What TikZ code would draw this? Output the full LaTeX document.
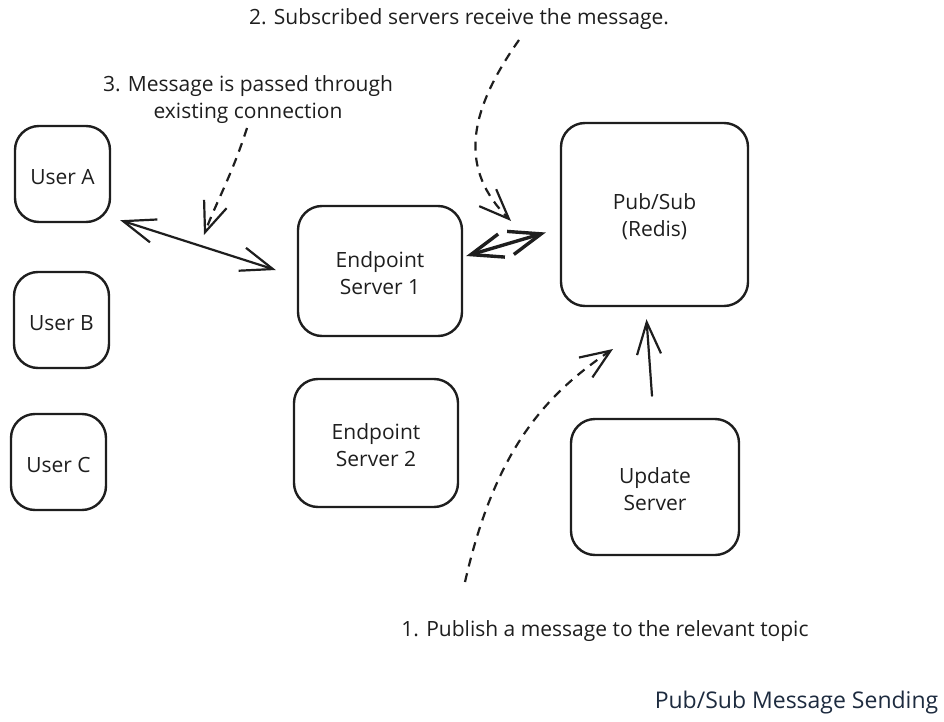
\documentclass[tikz,border=0pt]{standalone}
\usepackage{fontspec}
\setmainfont{Open Sans}
\usetikzlibrary{arrows.meta}
\definecolor{ink}{HTML}{1E1E1E}
\definecolor{titleink}{HTML}{1D2B3F}
\begin{document}
\begin{tikzpicture}[x=1pt,y=-1pt,
    barb/.tip={Straight Barb[length=32pt,width=24pt]},
    box/.style={draw=ink,line width=2.4pt,rounded corners=24pt,align=center,text=ink,font=\fontsize{21}{27}\selectfont},
    user/.style={box,minimum width=95pt,minimum height=96pt,text height=21pt},
    server/.style={box,text height=48pt},
    link/.style={draw=ink,line width=2.2pt,line cap=round,barb-barb},
    push/.style={draw=ink,line width=2.2pt,line cap=round,-barb},
    hint/.style={draw=ink,line width=2.2pt,dash pattern=on 9pt off 7pt,-{Straight Barb[length=30pt,width=24pt]}},
    note/.style={text=ink,align=center,font=\fontsize{21}{27}\selectfont}]
  \useasboundingbox (0,0) rectangle (944,722);
    \node (ua) at (62.5,174) [user] {User A};
    \node (ub) at (61.5,320) [user] {User B};
    \node (uc) at (58.5,462) [user] {User C};
    \node (ep1) at (380,271) [server,minimum width=164pt,minimum height=130pt] {Endpoint\\Server 1};
    \node (ep2) at (376,443) [server,minimum width=164pt,minimum height=128pt] {Endpoint\\Server 2};
    \node (ps) at (654.5,214.5) [server,minimum width=187pt,minimum height=183pt] {Pub/Sub\\(Redis)};
    \node (upd) at (655,487) [server,minimum width=168pt,minimum height=136pt] {Update\\Server};
    \node (n2) at (459,19) [note] {2. Subscribed servers receive the message.};
    \node (n3) at (248,100) [note] {3. Message is passed through\\existing connection};
    \node (n1) at (605,631) [note] {1. Publish a message to the relevant topic};
    \node (title) at (796.5,703) [note,text=titleink,font=\fontsize{23}{27}\selectfont] {Pub/Sub Message Sending};
    \coordinate (s1) at (465,582);
    \coordinate (e1) at (613,349);
    \coordinate (s2) at (519,40);
    \coordinate (e2) at (511,221);
    \coordinate (s3) at (247,128);
    \coordinate (e3) at (204,235);
   \draw[link]
    ([xshift=9pt,yshift=3pt]ua.south east) -- ([xshift=-21pt,yshift=1pt]ep1.west);
   \draw[link,line width=3.4pt]
    ([xshift=3pt,yshift=15pt]ep1.east) -- ([xshift=-14pt,yshift=-18pt]ps.west);
   \draw[push]
    ([xshift=-3pt,yshift=22pt]upd.north) -- ([xshift=-8pt,yshift=-12pt]ps.south);
   \draw[hint]
    (s1) .. controls (495,450) and (545,395) .. (e1);
   \draw[hint]
    (s2) .. controls (466,115) and (460,170) .. (e2);
   \draw[hint]
    (s3) .. controls (232,175) and (215,205) .. (e3);
  \end{tikzpicture}
\end{document}
